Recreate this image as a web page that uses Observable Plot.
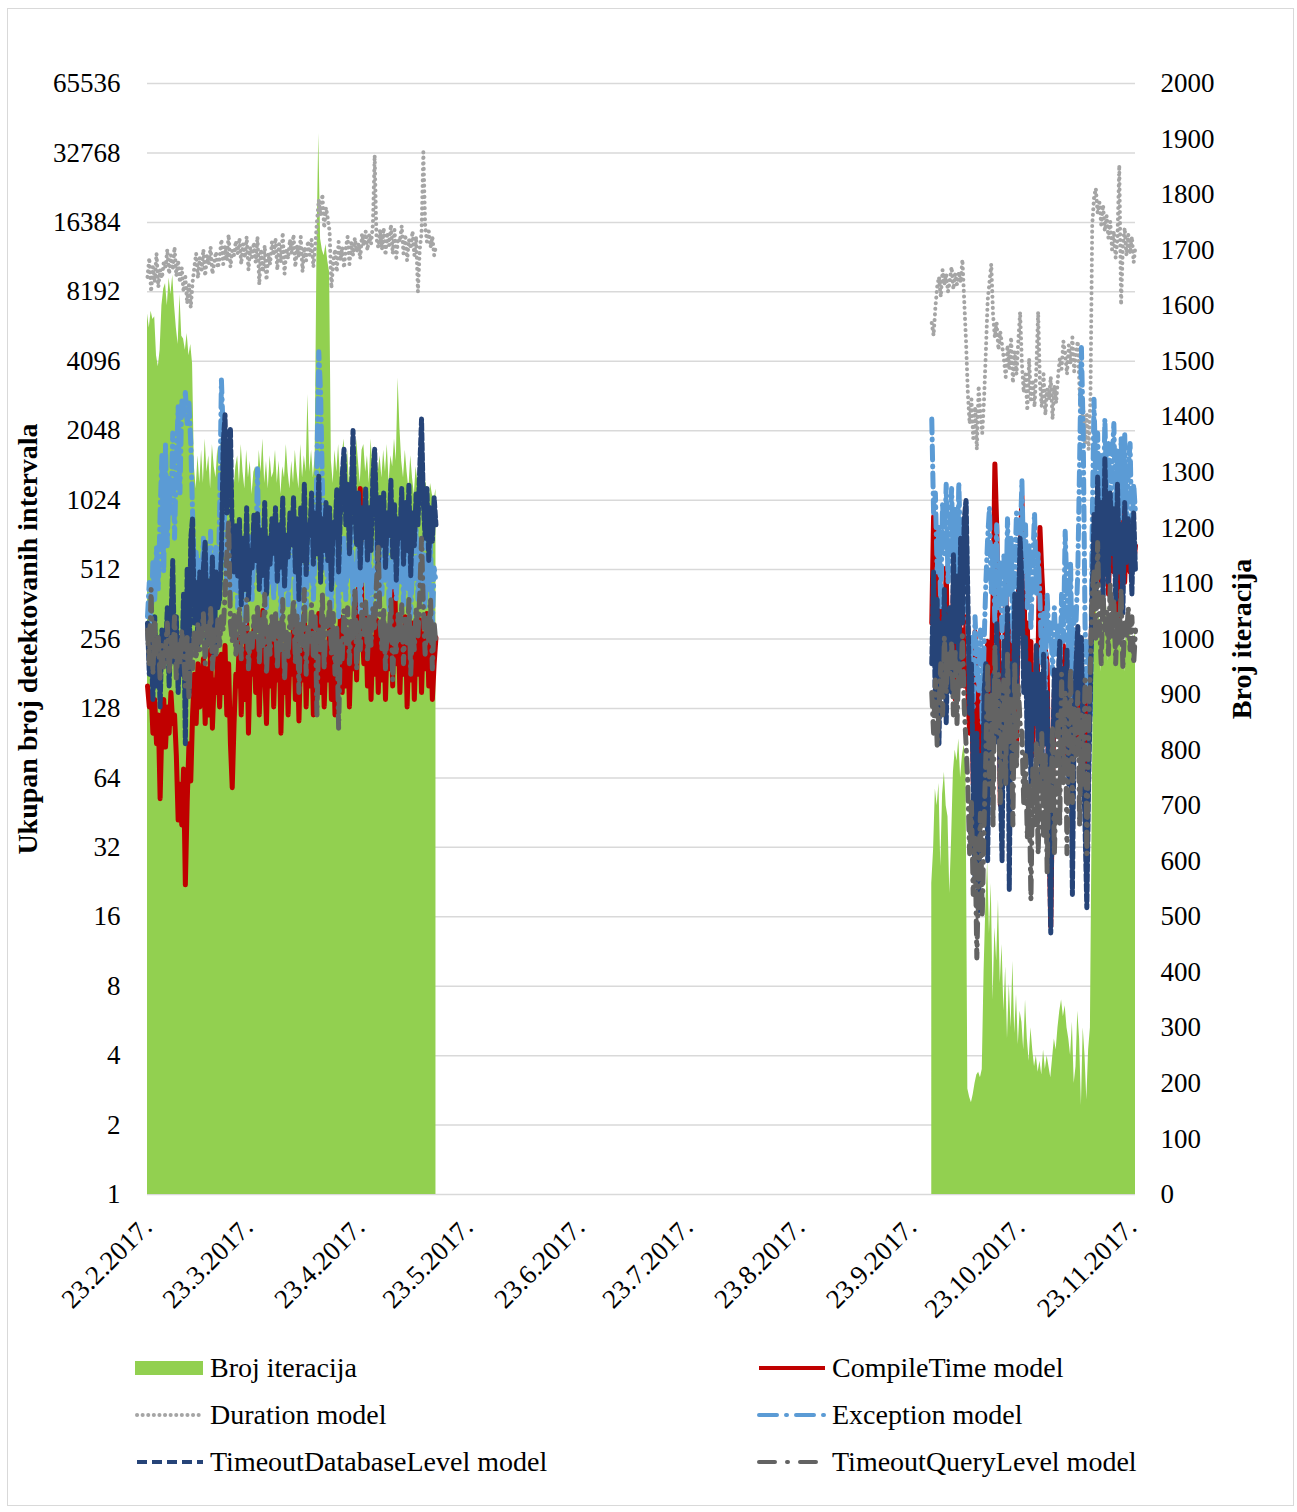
<!DOCTYPE html>
<html><head><meta charset="utf-8">
<script src="https://cdn.jsdelivr.net/npm/d3@7"></script>
<script src="https://cdn.jsdelivr.net/npm/@observablehq/plot@0.6"></script>
<style>
body{margin:0;background:#fff;font-family:'Liberation Serif','Times New Roman',serif;}
#frame{position:absolute;left:7px;top:8px;width:1285px;height:1496px;border:1px solid #d9d9d9;}
#chart{position:absolute;left:0;top:0;}
#legend{position:absolute;left:0;top:1340px;}
</style></head><body>
<div id="frame"></div><div id="chart"></div><div id="legend"></div>
<script>
// ---------- data ----------
const seriesNames = ["Broj iteracija","CompileTime model","Duration model","Exception model","TimeoutDatabaseLevel model","TimeoutQueryLevel model"];
const seriesColors = ["#92D050","#C00000","#A5A5A5","#5B9BD5","#264478","#636363"];
const leftTicks = [1,2,4,8,16,32,64,128,256,512,1024,2048,4096,8192,16384,32768,65536];
const rightTicks = [0,100,200,300,400,500,600,700,800,900,1000,1100,1200,1300,1400,1500,1600,1700,1800,1900,2000];
const xTickDates = ["2017-02-23","2017-03-23","2017-04-23","2017-05-23","2017-06-23","2017-07-23","2017-08-23","2017-09-23","2017-10-23","2017-11-23"];
const xTickLabels = ["23.2.2017.","23.3.2017.","23.4.2017.","23.5.2017.","23.6.2017.","23.7.2017.","23.8.2017.","23.9.2017.","23.10.2017.","23.11.2017."];
const xDomain = ["2017-02-23T00:00:00Z","2017-11-24T00:00:00Z"];
// two measurement periods, one value every 12 hours
const seg1Start = "2017-02-23T00:00:00Z";
const seg2Start = "2017-09-28T12:00:00Z";
const stepHours = 12;

const seg1Iter = [
1585,1560,1590,1575,1580,1510,1490,1520,1600,1630,
1640,1600,1650,1620,1655,1600,1560,1530,1620,1545,
1540,1520,1550,1510,1530,1495,1310,1270,1330,1280,
1340,1280,1360,1300,1330,1270,1350,1310,1290,1345,
1300,1360,1280,1330,1260,1320,1290,1340,1270,1310,
1330,1280,1350,1300,1270,1340,1290,1320,1260,1300,
1310,1270,1340,1300,1360,1280,1320,1270,1330,1290,
1300,1340,1280,1320,1260,1310,1290,1350,1300,1270,
1320,1280,1340,1300,1270,1350,1290,1330,1300,1440,
1300,1340,1290,1330,1700,1910,1720,1700,1690,1710,
1680,1660,1320,1280,1340,1300,1350,1290,1330,1360,
1300,1340,1280,1350,1310,1290,1360,1320,1280,1340,
1350,1300,1330,1280,1360,1310,1290,1340,1300,1330,
1290,1340,1300,1350,1280,1330,1310,1360,1320,1470,
1380,1320,1290,1340,1300,1270,1330,1290,1260,1310,
1280,1260,1300,1250,1290,1270,1240,1280,1260,1250,1270];
const seg2Iter = [
560,620,730,700,740,590,720,760,700,680,
542,640,760,800,780,820,750,790,810,770,
190,175,165,180,200,215,220,210,225,400,
520,600,470,560,350,480,420,530,380,450,
330,410,280,380,300,420,290,360,270,330,
310,260,350,280,240,300,260,230,250,220,
240,215,260,225,250,230,210,245,280,260,
300,330,350,320,340,300,280,250,310,200,
230,330,280,160,300,250,170,260,300,700,
1060,1090,1020,1050,940,1040,1010,1060,960,1030,
1000,1050,950,1020,1040,980,1010,940,1030,1000,
1020,980,1000,1010];

const seg1Compile = [
160,130,150,100,140,90,120,52,110,140,
87,130,100,150,110,120,80,42,60,40,
70,22,50,90,62,120,180,110,200,130,
140,210,110,190,120,230,105,170,150,215,
130,220,150,240,120,200,90,58,110,180,
160,260,120,230,140,300,100,210,180,280,
150,250,120,220,340,180,110,240,160,270,
130,230,170,290,100,200,150,260,120,220,
180,300,140,260,113,230,170,330,130,250,
160,280,120,240,190,330,150,260,130,220,
170,300,140,260,120,230,180,320,150,270,
160,280,130,250,190,330,170,400,1150,300,
200,330,160,280,140,260,180,310,150,270,
170,300,140,260,190,340,160,520,200,290,
150,270,180,320,130,250,170,300,140,260,
180,310,150,270,190,330,160,280,140,200,260];
const seg2Compile = [
300,870,600,200,470,150,380,250,520,180,
300,180,420,140,350,460,200,280,160,320,
150,100,200,60,275,90,160,70,120,200,
150,250,90,180,400,1470,800,300,49,200,
120,460,200,60,300,150,250,90,400,600,
1070,500,200,300,120,250,80,180,140,220,
780,500,350,230,200,40,14.5,60,150,100,
120,200,80,240,150,72,180,100,220,90,
130,200,90,160,110,180,70,140,220,350,
600,850,500,1130,450,800,550,900,400,750,
650,500,850,300,700,550,900,450,750,600,
500,800,550,650];

const seg1Duration = [
9500,11500,8200,10500,9000,12000,8600,10200,9400,11000,
10500,12500,9800,11800,10200,12800,9600,11200,9000,10400,
8200,9500,7300,8800,7000,9000,10500,12000,9400,11500,
10200,12500,9600,11800,10800,12800,9800,11000,12200,10400,
11500,13800,10800,12900,11200,14500,10500,12400,11800,13600,
12000,14000,10800,13200,11500,14200,10200,12800,11600,13400,
11000,14200,8800,12500,10000,13000,9200,12000,10800,13500,
11800,14000,10200,13200,11000,14800,9800,12600,11400,13800,
12000,14500,10500,13000,11600,14200,10000,12800,11200,13600,
11800,13800,10500,12800,16500,20500,17500,21700,15500,19000,
17000,15000,8500,11000,12500,10000,13500,11200,12800,10400,
12600,14200,10800,13400,11800,14000,12200,13200,11400,14600,
13000,15000,12400,14500,13200,16000,32000,14000,12800,15200,
12500,15500,11800,14800,13000,16000,12000,15200,11500,14000,
13500,15800,12000,14500,11200,13800,12600,15000,11800,14200,
8200,12500,14800,33000,16000,13500,15000,12800,14200,11800,13000];
const seg2Duration = [
6000,5300,7000,8600,9500,7800,10200,8800,9800,8200,
9200,10500,8400,9800,8800,10000,9000,11300,7500,5000,
3000,2200,2800,1900,2600,1700,3200,2400,2000,2800,
4500,7500,9000,10800,6500,5200,6000,4600,5500,4800,
4200,3500,4800,3800,5200,3300,4500,3600,5000,6700,
4000,3000,3600,2500,4200,2800,3400,2600,3800,6700,
3300,2600,3600,2400,3100,2800,3500,2300,3200,2700,
3500,4200,3800,5000,4400,3600,4800,4000,5200,3700,
4500,5000,3000,2200,2600,1800,2400,1700,2800,16000,
21000,23000,18000,20000,16000,19500,15000,17500,14000,16500,
12500,15000,11500,14000,29000,7200,13000,15500,11800,14500,
12000,14200,11000,13000];

const seg1Exception = [
320,450,280,560,380,640,420,900,1600,500,
1800,650,1300,900,2000,700,1500,2600,1100,2800,
2400,3000,2200,2700,1800,900,450,620,380,560,
420,700,350,600,480,750,300,520,640,400,
900,3400,2000,600,450,700,380,580,420,650,
350,560,420,680,300,520,460,720,380,600,
520,1400,480,700,400,620,350,560,450,680,
380,600,460,750,320,540,420,680,360,580,
480,820,380,650,300,560,420,900,350,600,
460,700,380,620,1500,4500,3000,1200,520,680,
400,640,350,580,460,760,320,560,420,700,
380,620,480,800,360,540,440,720,330,600,
460,760,380,600,300,520,420,680,350,580,
400,650,460,820,340,560,420,700,380,620,
450,740,360,600,420,680,320,540,460,780,
380,620,440,700,350,580,420,660,300,520,450];
const seg2Exception = [
2300,900,1100,500,800,350,1000,600,1200,450,
700,1150,500,950,380,1220,600,800,450,1000,
300,180,260,130,320,200,150,280,110,240,
450,700,950,400,650,300,800,350,550,260,
600,300,850,400,700,250,500,900,350,650,
1250,500,800,350,650,280,550,900,400,600,
380,200,330,150,400,250,300,180,350,220,
300,160,400,250,750,400,200,550,140,350,
300,500,1500,4700,2000,300,150,250,120,800,
2800,1200,2000,900,1600,700,2300,1100,1800,800,
1500,2200,900,1700,600,1900,1000,2000,800,1400,
1800,700,1200,900];

const seg1TimeoutDb = [
300,180,260,140,320,160,240,130,280,200,
220,350,160,300,560,200,320,150,260,180,
400,90,520,150,700,860,300,450,240,500,
280,520,680,240,460,300,580,220,500,350,
380,600,1800,2400,900,1500,2100,700,500,800,
480,850,360,700,420,950,380,620,520,880,
560,900,420,760,480,1000,400,700,540,850,
600,950,450,800,520,1050,430,720,580,900,
650,1050,500,850,380,950,560,1200,480,800,
720,1100,540,900,600,1300,450,850,620,1000,
560,950,420,820,700,1150,500,900,1300,1700,
800,1200,600,1000,2050,900,650,1100,520,950,
700,1150,560,950,620,1300,1700,900,480,1050,
650,1100,520,900,720,1250,580,980,460,850,
700,1150,540,1000,620,1200,480,900,650,1100,
800,1400,2300,1000,700,1150,560,950,680,1050,800];
const seg2TimeoutDb = [
200,500,120,380,90,300,160,420,110,260,
350,150,600,250,480,180,700,300,850,1020,
400,120,200,60,23,100,17,80,40,150,
200,28,120,60,180,90,300,150,60,28,
250,100,350,21,200,80,400,150,300,700,
450,150,260,80,200,60,180,110,240,90,
180,60,220,90,150,40,13.6,70,190,100,
160,250,70,190,100,230,60,140,20,120,
200,290,150,260,80,40,17.5,60,150,400,
900,400,1300,500,1000,350,1560,700,450,1100,
600,950,380,1200,500,800,330,1000,550,850,
700,400,900,500];

const seg1TimeoutQuery = [
280,200,420,180,300,220,260,170,240,190,
230,300,180,260,210,320,170,250,200,280,
220,160,260,140,240,190,280,210,300,230,
260,330,200,290,240,350,190,280,220,310,
240,320,280,400,600,830,300,250,330,220,
280,350,210,300,250,380,190,270,230,320,
260,360,200,310,240,400,180,290,220,330,
250,340,190,300,230,380,170,280,210,320,
280,380,200,330,150,300,240,420,180,290,
250,360,210,320,120,280,230,400,190,310,
270,380,220,330,180,290,105,250,210,340,
240,350,200,310,260,420,190,300,230,360,
260,370,210,320,240,350,280,450,640,300,
230,340,190,300,250,380,170,290,220,330,
250,360,200,320,240,380,180,290,230,350,
260,400,700,350,220,320,250,380,190,300,240];
const seg2TimeoutQuery = [
150,100,170,88,130,200,120,260,150,220,
180,250,120,230,110,200,160,265,130,90,
60,30,50,20,35,10.6,25,45,16,40,
80,200,60,150,40,240,100,180,50,130,
170,60,220,90,140,40,200,70,160,110,
100,50,80,35,60,19,70,40,90,30,
60,100,35,80,25,70,45,107,30,60,
120,40,180,60,150,30,100,190,50,130,
80,150,40,120,60,170,30,100,200,400,
500,250,670,300,200,400,280,335,220,450,
260,380,200,330,240,420,190,300,260,350,
230,320,200,280];

// ---------- build rows ----------
const stepMs = stepHours * 3600 * 1000;
function rows(start, values, seg) {
  const t0 = new Date(start).getTime();
  return values.map((v, i) => ({date: new Date(t0 + i * stepMs), value: v, seg}));
}
function both(a, b) { return rows(seg1Start, a, 1).concat(rows(seg2Start, b, 2)); }
const iterRows = both(seg1Iter, seg2Iter);
const compileRows = both(seg1Compile, seg2Compile);
const durationRows = both(seg1Duration, seg2Duration);
const exceptionRows = both(seg1Exception, seg2Exception);
const dbRows = both(seg1TimeoutDb, seg2TimeoutDb);
const queryRows = both(seg1TimeoutQuery, seg2TimeoutQuery);

// secondary (right) axis 0..2000 mapped onto the log2 primary axis 1..65536
const rightMax = rightTicks[rightTicks.length - 1];
const leftExp = Math.log2(leftTicks[leftTicks.length - 1]);
const toLeft = v => Math.pow(2, v / rightMax * leftExp);
const fromLeft = y => Math.round(Math.log2(y) / leftExp * rightMax);

const tickDates = xTickDates.map(d => new Date(d + "T00:00:00Z"));
const labelByTime = new Map(tickDates.map((d, i) => [+d, xTickLabels[i]]));

const W = 1297, H = 1340;
const FONT = "'Liberation Serif','Times New Roman',serif";
const lineStyles = {
  compile: {stroke: seriesColors[1], strokeWidth: 5, strokeLinejoin: "round"},
  duration: {stroke: seriesColors[2], strokeWidth: 4, strokeDasharray: "0.1 5.5", strokeLinecap: "round"},
  exception: {stroke: seriesColors[3], strokeWidth: 5, strokeDasharray: "14 6 1 6", strokeLinecap: "round"},
  db: {stroke: seriesColors[4], strokeWidth: 5, strokeDasharray: "7 3", strokeLinecap: "round"},
  query: {stroke: seriesColors[5], strokeWidth: 5, strokeDasharray: "14 7 1 7", strokeLinecap: "round"}
};
const legendDash = {compile: null, duration: "0.1 5.5", exception: "18 9 1 9", db: "10 5", query: "16 12 1 12"};
const legendCap = {compile: "butt", duration: "round", exception: "round", db: "butt", query: "round"};

const chart = Plot.plot({
  width: W, height: H,
  marginLeft: 147, marginRight: 162, marginTop: 83, marginBottom: H - 1194,
  x: {type: "utc", domain: xDomain.map(d => new Date(d))},
  y: {type: "log", base: 2, domain: [leftTicks[0], leftTicks[leftTicks.length - 1]]},
  style: {fontFamily: FONT, fontSize: "27px", color: "#000", background: "transparent", overflow: "visible"},
  marks: [
    Plot.gridY(leftTicks, {stroke: "#d9d9d9", strokeOpacity: 1, strokeWidth: 1.5}),
    Plot.areaY(iterRows, {x: "date", y1: 1, y2: d => toLeft(d.value), z: "seg", fill: seriesColors[0], curve: "linear"}),
    Plot.line(compileRows, {x: "date", y: "value", z: "seg", ...lineStyles.compile}),
    Plot.line(durationRows, {x: "date", y: "value", z: "seg", ...lineStyles.duration}),
    Plot.line(exceptionRows, {x: "date", y: "value", z: "seg", ...lineStyles.exception}),
    Plot.line(dbRows, {x: "date", y: "value", z: "seg", ...lineStyles.db}),
    Plot.line(queryRows, {x: "date", y: "value", z: "seg", ...lineStyles.query}),
    Plot.axisY(leftTicks, {anchor: "left", tickSize: 0, tickPadding: 27, fontSize: 27, tickFormat: d => String(d), label: null}),
    Plot.axisY(rightTicks.map(toLeft), {anchor: "right", tickSize: 0, tickPadding: 25, fontSize: 27, tickFormat: d => String(fromLeft(d)), label: null}),
    Plot.axisX(tickDates, {anchor: "bottom", tickSize: 0, tickPadding: 28, tickRotate: -45, fontSize: 27, tickFormat: d => labelByTime.get(+d), label: null}),
    Plot.text(["Ukupan broj detektovanih intervala"], {text: d => d, frameAnchor: "left", dx: -119, rotate: -90, fontSize: 28, fontWeight: "bold", textAnchor: "middle", fill: "#000"}),
    Plot.text(["Broj iteracija"], {text: d => d, frameAnchor: "right", dx: 107, rotate: -90, fontSize: 28, fontWeight: "bold", textAnchor: "middle", fill: "#000"})
  ]
});
document.getElementById("chart").appendChild(chart);

// ---------- legend ----------
const legendCols = [135, 757];
const legendRowsY = [28, 75, 122];
const legendKeys = [null, "compile", "duration", "exception", "db", "query"];
const lsvg = d3.select("#legend").append("svg").attr("width", W).attr("height", 160)
  .style("font-family", FONT);
seriesNames.forEach((name, i) => {
  const x = legendCols[i % 2], y = legendRowsY[Math.floor(i / 2)];
  const g = lsvg.append("g");
  if (i === 0) {
    g.append("rect").attr("x", x).attr("y", y - 7).attr("width", 68).attr("height", 14).attr("fill", seriesColors[0]);
  } else {
    const k = legendKeys[i];
    g.append("line").attr("x1", x + 2).attr("x2", x + 68).attr("y1", y).attr("y2", y)
      .attr("stroke", lineStyles[k].stroke).attr("stroke-width", 4)
      .attr("stroke-dasharray", legendDash[k])
      .attr("stroke-linecap", legendCap[k]);
  }
  g.append("text").attr("x", x + 75).attr("y", y).attr("dy", "0.33em")
    .attr("font-size", 28).attr("fill", "#000").text(name);
});
</script></body></html>
